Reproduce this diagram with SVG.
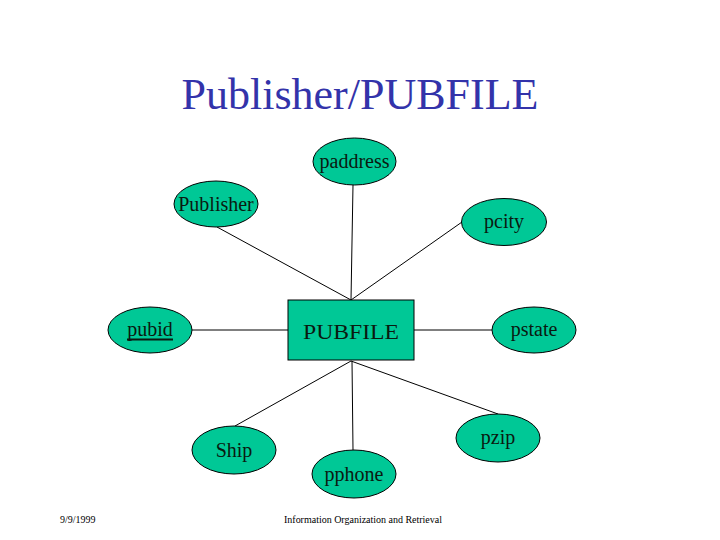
<svg xmlns="http://www.w3.org/2000/svg" width="720" height="540" viewBox="0 0 720 540">
<style>
.node{fill:#00c896;stroke:#000;stroke-width:1}
.lbl{font-family:"Liberation Serif",serif;font-size:20px;fill:#0a1a10;text-anchor:middle}
.conn line{stroke:#000;stroke-width:1}
.foot{font-family:"Liberation Serif",serif;font-size:10px;fill:#000}
</style>
<rect width="720" height="540" fill="#fff"/>
<text x="360" y="109" text-anchor="middle" font-family="Liberation Serif,serif" font-size="44" fill="#3333aa">Publisher/PUBFILE</text>
<g class="conn">
<line x1="217" y1="227" x2="351" y2="300"/>
<line x1="353" y1="185" x2="351" y2="300"/>
<line x1="462" y1="222" x2="351" y2="300"/>
<line x1="192" y1="330" x2="288" y2="330"/>
<line x1="414" y1="330" x2="492" y2="330"/>
<line x1="235" y1="426" x2="351" y2="361"/>
<line x1="352" y1="361" x2="353" y2="450"/>
<line x1="498" y1="414" x2="351" y2="361"/>
</g>
<g id="paddress"><ellipse class="node" cx="354.5" cy="161.5" rx="41.5" ry="23.5"/><text class="lbl" x="354.5" y="168">paddress</text></g>
<g id="publisher"><ellipse class="node" cx="216" cy="204" rx="42" ry="23"/><text class="lbl" x="216" y="211">Publisher</text></g>
<g id="pcity"><ellipse class="node" cx="504" cy="222" rx="42.5" ry="23.5"/><text class="lbl" x="504" y="228">pcity</text></g>
<g id="pubfile"><rect class="node" x="288" y="300" width="126" height="60"/><text class="lbl" x="351" y="339" font-size="26" textLength="96" lengthAdjust="spacingAndGlyphs">PUBFILE</text></g>
<g id="pubid"><ellipse class="node" cx="150" cy="330" rx="42" ry="23"/><text class="lbl" x="150" y="336">pubid</text><line x1="127" y1="339.5" x2="173" y2="339.5" stroke="#0a1a10" stroke-width="2"/></g>
<g id="pstate"><ellipse class="node" cx="534" cy="330" rx="42" ry="23"/><text class="lbl" x="534" y="336">pstate</text></g>
<g id="ship"><ellipse class="node" cx="234" cy="450" rx="42" ry="24"/><text class="lbl" x="234" y="457">Ship</text></g>
<g id="pphone"><ellipse class="node" cx="354" cy="474" rx="42" ry="24"/><text class="lbl" x="354" y="481">pphone</text></g>
<g id="pzip"><ellipse class="node" cx="498" cy="438" rx="42" ry="24"/><text class="lbl" x="498" y="444">pzip</text></g>
<text class="foot" x="60" y="523">9/9/1999</text>
<text class="foot" x="284" y="523" textLength="158">Information  Organization and Retrieval</text>
</svg>
